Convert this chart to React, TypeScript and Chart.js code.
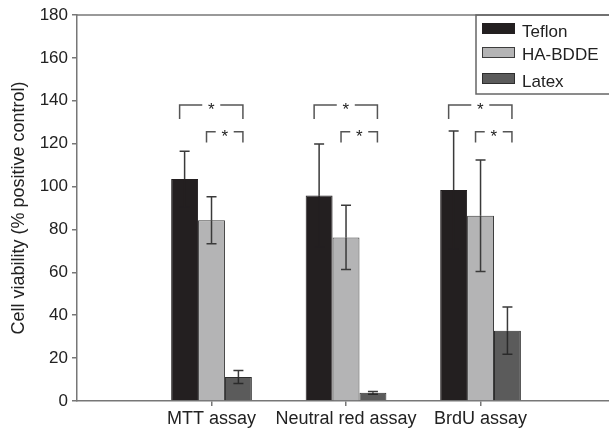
import React, { useEffect, useRef } from "react";
import { Chart, registerables } from "chart.js";

Chart.register(...registerables);

// ---- data ----
const categories = ["MTT assay", "Neutral red assay", "BrdU assay"];
const seriesNames = ["Teflon", "HA-BDDE", "Latex"];
const teflon = [103.5, 95.8, 98.4];
const teflonErr = [13, 24, 27.5];
const habdde = [84.3, 76.3, 86.4];
const habddeErr = [11, 15, 26];
const latex = [11.2, 3.8, 32.8];
const latexErr = [3, 0.6, 11];
const yTickStep = 20;
const yMin = 0;
const yMax = 180;
// significance brackets: [line value, leg end value]
const bracketBig = [138, 131.5];
const bracketSmall = [125.5, 120.5];
const starText = "*";
const yTitle = "Cell viability (% positive control)";

// ---- styles ----
const FONT = "'Liberation Sans', Arial, Helvetica, sans-serif";
const TEXT = "#222";
const AXIS = "#777";
const fills = ["#231f20", "#b4b4b5", "#5b5b5b"];
const borders = ["#231f20", "#3c3c3c", "#2e2e2e"];
const errUpper = ["#3a3a3a", "#3a3a3a", "#3a3a3a"];
const errLower = ["#231f20", "#3a3a3a", "#2a2a2a"];

const values = [teflon, habdde, latex];
const errors = [teflonErr, habddeErr, latexErr];

const extras = {
  id: "extras",
  afterDatasetsDraw(chart: any) {
    const ctx = chart.ctx;
    const ys = chart.scales.y;
    ctx.save();
    // error bars
    ctx.lineWidth = 1.5;
    errors.forEach((errs, d) => {
      const meta = chart.getDatasetMeta(d);
      meta.data.forEach((el: any, i: number) => {
        const x = el.x;
        const c = ys.getPixelForValue(values[d][i]);
        const t = ys.getPixelForValue(values[d][i] + errs[i]);
        const b = ys.getPixelForValue(values[d][i] - errs[i]);
        ctx.strokeStyle = errUpper[d];
        ctx.beginPath();
        ctx.moveTo(x, t);
        ctx.lineTo(x, c);
        ctx.moveTo(x - 5, t);
        ctx.lineTo(x + 5, t);
        ctx.stroke();
        ctx.strokeStyle = errLower[d];
        ctx.beginPath();
        ctx.moveTo(x, c);
        ctx.lineTo(x, b);
        ctx.moveTo(x - 5, b);
        ctx.lineTo(x + 5, b);
        ctx.stroke();
      });
    });
    // brackets
    const m0 = chart.getDatasetMeta(0);
    const m1 = chart.getDatasetMeta(1);
    const m2 = chart.getDatasetMeta(2);
    ctx.strokeStyle = "#555";
    ctx.lineWidth = 1.5;
    ctx.fillStyle = TEXT;
    ctx.font = `17px ${FONT}`;
    ctx.textAlign = "center";
    ctx.textBaseline = "alphabetic";
    const drawBracket = (l: number, r: number, spec: number[]) => {
      const ly = ys.getPixelForValue(spec[0]);
      const le = ys.getPixelForValue(spec[1]);
      const mid = (l + r) / 2;
      ctx.beginPath();
      ctx.moveTo(l, le);
      ctx.lineTo(l, ly);
      ctx.lineTo(mid - 9, ly);
      ctx.moveTo(mid + 9, ly);
      ctx.lineTo(r, ly);
      ctx.lineTo(r, le);
      ctx.stroke();
      ctx.fillText(starText, mid, ly + 10);
    };
    categories.forEach((_, i) => {
      const r = m2.data[i].x + 4.5;
      drawBracket(m0.data[i].x - 5, r, bracketBig);
      drawBracket(m1.data[i].x - 5, r, bracketSmall);
    });
    ctx.restore();
  },
  afterDraw(chart: any) {
    const ctx = chart.ctx;
    const a = chart.chartArea;
    ctx.save();
    // top frame line
    ctx.strokeStyle = AXIS;
    ctx.lineWidth = 1.5;
    ctx.beginPath();
    ctx.moveTo(a.left, a.top);
    ctx.lineTo(chart.width, a.top);
    ctx.stroke();
    // legend box
    const left = a.right - 133;
    const top = a.top;
    ctx.strokeStyle = "#666";
    ctx.lineWidth = 1.5;
    ctx.strokeRect(left, top, 200, 79);
    const swTops = [8, 32, 58];
    const txtBase = [22, 45, 72];
    ctx.font = `17px ${FONT}`;
    ctx.textAlign = "left";
    ctx.textBaseline = "alphabetic";
    chart.data.datasets.forEach((ds: any, i: number) => {
      ctx.fillStyle = fills[i];
      ctx.fillRect(left + 6, top + swTops[i], 33, 11);
      ctx.strokeStyle = borders[i];
      ctx.lineWidth = 1;
      ctx.strokeRect(left + 6.5, top + swTops[i] + 0.5, 32, 10);
      ctx.fillStyle = TEXT;
      ctx.fillText(ds.label, left + 46, top + txtBase[i]);
    });
    ctx.restore();
  },
};

export default function App() {
  const ref = useRef<HTMLCanvasElement | null>(null);
  useEffect(() => {
    if (!ref.current) return;
    const datasets = seriesNames.map((name, d) => ({
      label: name,
      data: categories.map((_, i) => ({ x: i + 1, y: values[d][i] })),
      backgroundColor: fills[d],
      borderColor: borders[d],
      borderWidth: 1,
      categoryPercentage: 0.6,
      barPercentage: 1,
    }));
    const chart = new Chart(ref.current, {
      type: "bar",
      data: { datasets },
      plugins: [extras],
      options: {
        responsive: false,
        animation: false,
        layout: { padding: { top: 15, right: 0, left: 0, bottom: 0 } },
        plugins: { legend: { display: false }, tooltip: { enabled: false } },
        scales: {
          x: {
            type: "linear",
            min: 0,
            max: 3.955,
            offset: false,
            grid: {
              display: true,
              drawOnChartArea: false,
              drawTicks: true,
              tickLength: 5,
              color: AXIS,
              lineWidth: 1.5,
              offset: false,
            },
            border: { display: true, color: AXIS, width: 1.5 },
            afterBuildTicks: (s: any) => {
              s.ticks = categories.map((_, i) => ({ value: i + 1 }));
            },
            afterFit: (s: any) => {
              s.height = 33;
              s.paddingLeft = 0;
              s.paddingRight = 0;
            },
            ticks: {
              callback: (v: any) => categories[Number(v) - 1] ?? "",
              autoSkip: false,
              maxRotation: 0,
              color: TEXT,
              font: { size: 18, family: FONT },
              padding: 2,
            },
          },
          y: {
            min: yMin,
            max: yMax,
            grid: {
              display: true,
              drawOnChartArea: false,
              drawTicks: true,
              tickLength: 5,
              color: AXIS,
              lineWidth: 1.5,
            },
            border: { display: true, color: AXIS, width: 1.5 },
            ticks: {
              stepSize: yTickStep,
              color: TEXT,
              font: { size: 17, family: FONT },
              padding: 4,
            },
            title: {
              display: true,
              text: yTitle,
              color: TEXT,
              font: { size: 18, family: FONT },
              padding: { top: 8, bottom: 0 },
            },
            afterFit: (s: any) => {
              s.width = 77;
            },
          },
        },
      },
    } as any);
    return () => chart.destroy();
  }, []);
  return (
    <div style={{ position: "fixed", left: 0, top: 0, width: 609, height: 434, background: "#fff" }}>
      <canvas ref={ref} width={609} height={434} />
    </div>
  );
}
